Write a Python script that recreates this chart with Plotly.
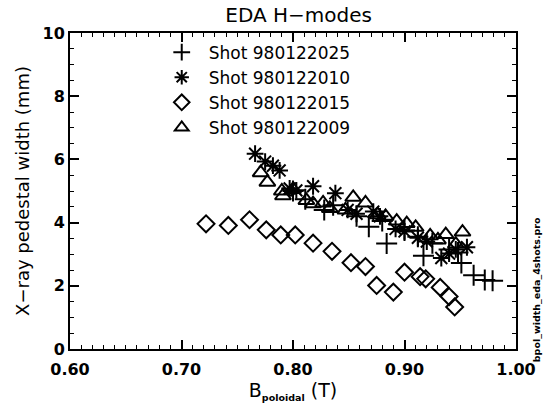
import plotly.graph_objects as go

# Shot 980122025 (plus)
x_025 = [0.800, 0.811, 0.828, 0.836, 0.857, 0.868, 0.880, 0.884, 0.900, 0.912, 0.917,
         0.925, 0.940, 0.948, 0.951, 0.962, 0.972, 0.979]
y_025 = [5.00, 4.74, 4.40, 4.55, 4.20, 3.87, 4.05, 3.34, 3.75, 3.55, 2.95,
         3.35, 3.15, 3.05, 2.72, 2.33, 2.18, 2.16]

# Shot 980122010 (asterisk)
x_010 = [0.766, 0.775, 0.782, 0.788, 0.797, 0.803, 0.818, 0.838, 0.849, 0.857, 0.872,
         0.878, 0.892, 0.900, 0.912, 0.920, 0.933, 0.940, 0.946, 0.956]
y_010 = [6.18, 5.93, 5.80, 5.65, 5.08, 5.02, 5.15, 4.93, 4.40, 4.28, 4.35,
         4.20, 3.80, 3.72, 3.52, 3.40, 2.88, 3.02, 3.15, 3.22]

# Shot 980122015 (diamond)
x_015 = [0.722, 0.742, 0.761, 0.776, 0.789, 0.802, 0.818, 0.835, 0.852, 0.865, 0.875,
         0.890, 0.900, 0.914, 0.919, 0.932, 0.940, 0.945]
y_015 = [3.96, 3.91, 4.09, 3.77, 3.61, 3.61, 3.35, 3.09, 2.73, 2.61, 2.01,
         1.80, 2.43, 2.29, 2.22, 1.95, 1.66, 1.33]

# Shot 980122009 (triangle)
x_009 = [0.771, 0.777, 0.790, 0.791, 0.800, 0.812, 0.818, 0.827, 0.833, 0.847, 0.854,
         0.865, 0.876, 0.883, 0.893, 0.902, 0.910, 0.923, 0.930, 0.937, 0.946, 0.952]
y_009 = [5.58, 5.28, 5.00, 4.85, 5.05, 4.70, 4.60, 4.62, 4.45, 4.40, 4.80,
         4.62, 4.25, 4.20, 4.05, 3.97, 3.85, 3.58, 3.45, 3.62, 3.32, 3.70]

series = [
    ("Shot 980122025", x_025, y_025, "cross-thin-open", 15),
    ("Shot 980122010", x_010, y_010, "asterisk-open", 14),
    ("Shot 980122015", x_015, y_015, "diamond-open", 13),
    ("Shot 980122009", x_009, y_009, "triangle-up-open", 14),
]

x_ticks = [0.6, 0.7, 0.8, 0.9, 1.0]
x_ticklabels = ["<b>0.60</b>", "<b>0.70</b>", "<b>0.80</b>", "<b>0.90</b>", "<b>1.00</b>"]
y_ticks = [0, 2, 4, 6, 8, 10]
y_ticklabels = ["<b>0</b>", "<b>2</b>", "<b>4</b>", "<b>6</b>", "<b>8</b>", "<b>10</b>"]

FONT = "DejaVu Sans, sans-serif"

fig = go.Figure()
for name, xs, ys, sym, sz in series:
    fig.add_trace(go.Scatter(
        x=xs, y=ys, mode="markers", name=name,
        marker=dict(symbol=sym, size=sz, color="black",
                    line=dict(color="black", width=2)),
    ))

fig.update_layout(
    width=548, height=409,
    margin=dict(l=70, r=21, t=33, b=59),
    paper_bgcolor="white", plot_bgcolor="white",
    font=dict(family=FONT, size=17, color="black"),
    title=dict(text="EDA H\u2212modes", x=0.545, xanchor="center",
               y=0.963, yanchor="middle", font=dict(size=20)),
    showlegend=True,
    legend=dict(x=0.19, y=0.995, xanchor="left", yanchor="top",
                bgcolor="rgba(0,0,0,0)", font=dict(size=17),
                itemsizing="constant", itemwidth=44, tracegroupgap=0),
)

fig.update_xaxes(
    range=[0.6, 1.0], tickvals=x_ticks, ticktext=x_ticklabels,
    showline=True, linecolor="black", linewidth=2, mirror="allticks",
    ticks="inside", ticklen=9, tickwidth=1.5, tickcolor="black",
    minor=dict(ticks="inside", ticklen=4, dtick=0.01, tickcolor="black", tickwidth=1),
    showgrid=False, zeroline=False,
    tickfont=dict(size=16), ticklabelstandoff=5,
    title=dict(text="B<sub><span style='font-size:9.5px'><b>poloidal</b></span></sub> (T)",
               standoff=4, font=dict(size=19)),
)
fig.update_yaxes(
    range=[0, 10], tickvals=y_ticks, ticktext=y_ticklabels,
    showline=True, linecolor="black", linewidth=2, mirror="allticks",
    ticks="inside", ticklen=9, tickwidth=1.5, tickcolor="black",
    minor=dict(ticks="inside", ticklen=4, dtick=0.5, tickcolor="black", tickwidth=1),
    showgrid=False, zeroline=False,
    tickfont=dict(size=16),
    title=dict(text="X\u2212ray pedestal width (mm)", standoff=8, font=dict(size=18)),
)

fig.add_annotation(
    text="<b>bpol_width_eda_4shots.pro</b>", xref="paper", yref="paper",
    x=1.0, xshift=20, y=0.186, textangle=-90, showarrow=False,
    font=dict(size=9.5, family=FONT), xanchor="center", yanchor="middle",
)

fig.write_html("out.html")
